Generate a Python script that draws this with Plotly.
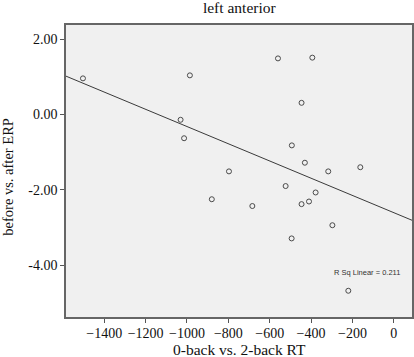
import numpy as np
import plotly.graph_objects as go

# Data
rt_diff = [-1503, -986, -1031, -1014, -797, -880, -684, -560, -394, -446,
           -493, -430, -317, -162, -523, -378, -446, -410, -297, -494, -220]
erp_diff = [0.96, 1.04, -0.14, -0.63, -1.51, -2.25, -2.43, 1.49, 1.51, 0.31,
            -0.82, -1.28, -1.51, -1.40, -1.90, -2.07, -2.38, -2.31, -2.94, -3.29, -4.68]

x_ticks = [-1400, -1200, -1000, -800, -600, -400, -200, 0]
y_ticks = [2, 0, -2, -4]
y_tick_labels = ["2.00", "0.00", "-2.00", "-4.00"]

title_text = "left anterior"
x_title = "0-back vs. 2-back RT"
y_title = "before vs. after ERP"
rsq_label = "R Sq Linear = 0.211"

x_range = [-1585, 88]
y_range = [-5.377, 2.377]

# Linear fit from the data
slope, intercept = np.polyfit(rt_diff, erp_diff, 1)
fit_x = np.array(x_range, dtype=float)
fit_y = intercept + slope * fit_x

serif = "Liberation Serif"

fig = go.Figure()
fig.add_trace(go.Scatter(
    x=fit_x, y=fit_y, mode="lines",
    line=dict(color="#3a3a3a", width=1),
    hoverinfo="skip", showlegend=False,
))
fig.add_trace(go.Scatter(
    x=rt_diff, y=erp_diff, mode="markers",
    marker=dict(symbol="circle-open", size=5, color="#4a4a4a", line=dict(width=1, color="#4a4a4a")),
    showlegend=False,
))

fig.add_annotation(x=-132, y=-4.19, xref="x", yref="y", text=rsq_label,
                   showarrow=False, font=dict(family="Liberation Sans", size=7.5, color="#333333"))
fig.add_annotation(x=0.501, y=-0.1125, xref="paper", yref="paper", text=x_title,
                   showarrow=False, xanchor="center", yanchor="middle",
                   font=dict(family=serif, size=15.5, color="#111111"))
fig.add_annotation(x=-0.166, y=0.479, xref="paper", yref="paper", text=y_title,
                   showarrow=False, xanchor="center", yanchor="middle", textangle=-90,
                   font=dict(family=serif, size=14.5, color="#111111"))

fig.update_layout(
    width=414, height=357,
    margin=dict(l=66, r=1.5, t=24.7, b=40),
    paper_bgcolor="white",
    plot_bgcolor="#f0f0f0",
    title=dict(text=title_text, x=0.578, xanchor="center", y=0.994, yanchor="top",
               font=dict(family=serif, size=15.5, color="#111111")),
    font=dict(family=serif, color="#111111"),
    xaxis=dict(range=x_range, tickvals=x_ticks, ticks="outside", ticklen=4,
               ticklabelstandoff=-2,
               tickcolor="#555555", showgrid=False, zeroline=False,
               showline=True, linecolor="#666666", linewidth=1.5, mirror=True,
               tickfont=dict(family=serif, size=14, color="#111111")),
    yaxis=dict(range=y_range, tickvals=y_ticks, ticktext=y_tick_labels, ticks="outside", ticklen=4,
               tickcolor="#555555", showgrid=False, zeroline=False,
               showline=True, linecolor="#666666", linewidth=1.5, mirror=True,
               tickfont=dict(family=serif, size=14, color="#111111")),
)

fig.write_html("out.html", config={"displayModeBar": False},
               post_script="document.body.style.margin='0';document.body.style.overflow='hidden';")
